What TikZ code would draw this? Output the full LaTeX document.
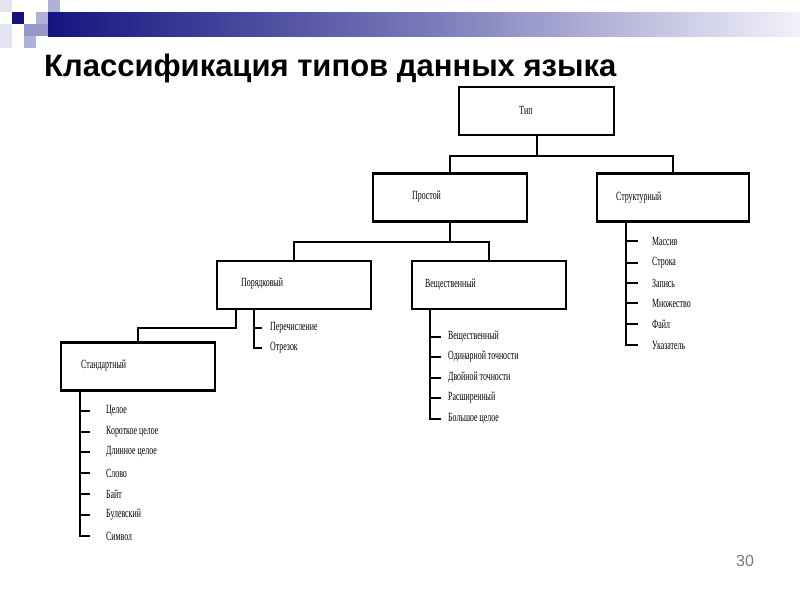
\documentclass[tikz,border=0pt]{standalone}
\usepackage{fontspec}
\setmainfont{Liberation Serif}
\newfontfamily\titlefont{Liberation Sans}
\newfontfamily\condfont[FakeStretch=0.63]{Liberation Serif}
\definecolor{navy}{RGB}{20,20,128}
\definecolor{barend}{RGB}{242,242,250}
\definecolor{pale}{RGB}{228,228,240}
\definecolor{lav}{RGB}{176,176,216}
\definecolor{lavm}{RGB}{150,150,200}
\definecolor{pgray}{RGB}{120,120,120}
\tikzset{
  box/.style={draw, line width=2.2pt, inner sep=0pt, minimum width=#1, minimum height=48pt},
  box/.default=154pt,
  lbl/.style={font=\condfont\fontsize{12.5}{14}\selectfont, inner sep=0pt},
  item/.style={lbl, anchor=west},
  conn/.style={line width=2pt},
}
\begin{document}
\begin{tikzpicture}[x=1pt,y=-1pt]
\useasboundingbox (0,0) rectangle (800,600);
% decoration
\fill[pale] (0,0) rectangle (12,12);
\fill[lav] (48,0) rectangle (60,12);
\fill[navy] (12,12) rectangle (24,24);
\fill[lav] (36,12) rectangle (48,24);
\fill[lavm] (24,24) rectangle (48,36);
\fill[lav] (24,36) rectangle (36,48);
\fill[pale] (0,24) rectangle (12,48);
\shade[left color=navy, right color=barend, middle color={rgb,255:red,120;green,120;blue,185}] (48,12) rectangle (800,36);
% title
\node[anchor=base west, inner sep=0pt, font=\titlefont\bfseries\fontsize{31}{34}\selectfont] (title) at (44,76) {Классификация типов данных языка};
% boxes
\node[box=155pt] (tip) at (536.5,111) {};
\node[box] (prost) at (450,197.5) {};
\node[box=152pt] (struct) at (673,197.5) {};
\node[box] (poryad) at (294,285) {};
\node[box] (vesh) at (489,285) {};
\node[box] (stand) at (138,366.5) {};
% box labels
\node[lbl] (tTip) at (526,110) {Тип};
\node[lbl, anchor=west] (tProst) at (412,197) {Простой};
\node[lbl, anchor=west] (tStruct) at (616,198) {Структурный};
\node[lbl, anchor=west] (tPor) at (241,284) {Порядковый};
\node[lbl, anchor=west] (tVesh) at (425,285) {Вещественный};
\node[lbl, anchor=west] (tStand) at (81,366) {Стандартный};
% tree connectors
\coordinate (j1) at (536.5,156);
\draw[conn] (tip.south) -- (j1);
\draw[conn] (prost.north) |- (j1) -| (struct.north);
\coordinate (j2) at (450,242);
\draw[conn] (prost.south) -- (j2);
\draw[conn] (poryad.north) |- (j2) -| (vesh.north);
\coordinate (j3) at (138,328);
\draw[conn] ([xshift=-58pt]poryad.south) |- (j3) -- (stand.north);
% Порядковый list
\foreach \t/\yy [count=\i] in {Перечисление/328, Отрезок/348} {
  \node[item] (p\i) at (270,\yy) {\t};
  \draw[conn] (254,\yy) -- ([xshift=-8pt]p\i.west);
}
\draw[conn] ([xshift=-40pt]poryad.south) |- ([xshift=-8pt]p2.west);
% Вещественный list
\foreach \t/\yy [count=\i] in {Вещественный/337, Одинарной точности/357, Двойной точности/378, Расширенный/398, Большое целое/419} {
  \node[item] (v\i) at (448,\yy) {\t};
  \draw[conn] (430,\yy) -- ([xshift=-7pt]v\i.west);
}
\draw[conn] ([xshift=-59pt]vesh.south) |- ([xshift=-7pt]v5.west);
% Стандартный list
\foreach \t/\yy [count=\i] in {Целое/411, Короткое целое/432, Длинное целое/452, Слово/473, Байт/494, Булевский/515, Символ/536} {
  \node[item] (s\i) at (106,\yy) {\t};
  \draw[conn] (80,\yy) -- ([xshift=-16pt]s\i.west);
}
\draw[conn] ([xshift=-58pt]stand.south) |- ([xshift=-16pt]s7.west);
% Структурный list
\foreach \t/\yy [count=\i] in {Массив/241, Строка/263, Запись/283, Множество/303, Файл/324, Указатель/345} {
  \node[item] (c\i) at (652,\yy) {\t};
  \draw[conn] (626,\yy) -- ([xshift=-14pt]c\i.west);
}
\draw[conn] ([xshift=-47pt]struct.south) |- ([xshift=-14pt]c6.west);
% page number
\node[anchor=base west, inner sep=0pt, text=pgray, font=\titlefont\fontsize{16}{18}\selectfont] (pnum) at (736,566) {30};
\end{tikzpicture}
\end{document}
